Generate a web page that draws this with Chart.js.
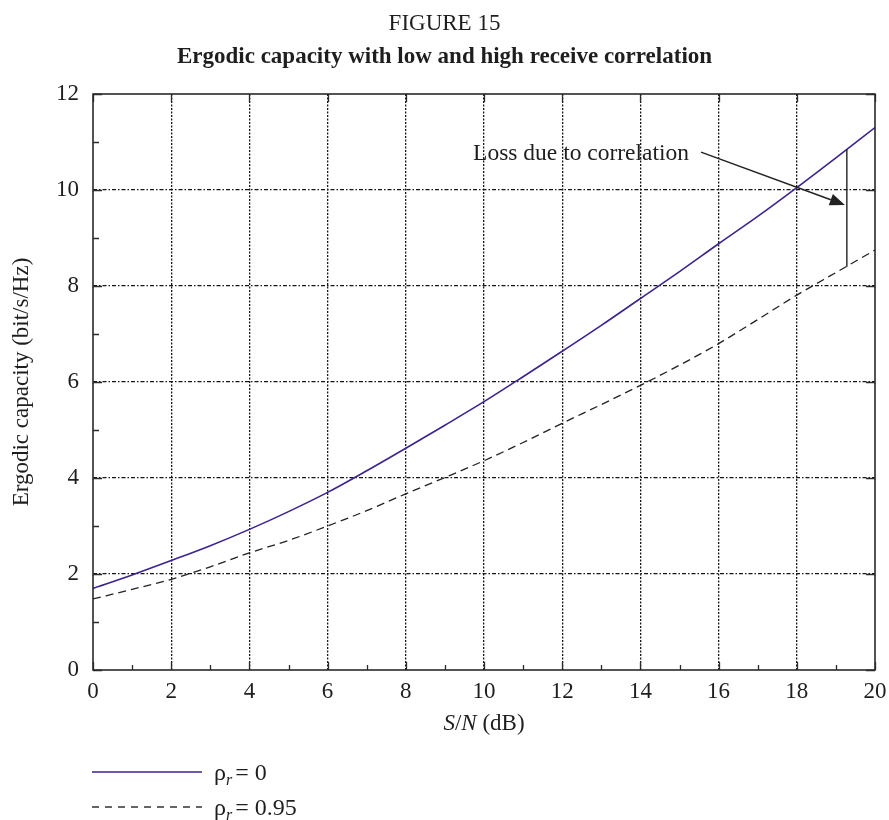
<!DOCTYPE html>
<html>
<head>
<meta charset="utf-8">
<title>Ergodic capacity with low and high receive correlation</title>
<script src="https://cdn.jsdelivr.net/npm/chart.js@4.4.1/dist/chart.umd.min.js"></script>
<style>
  html, body { margin: 0; padding: 0; background: #ffffff; }
  canvas { display: block; }
</style>
</head>
<body>
<canvas id="chart" width="889" height="820"></canvas>
<script>
// Signal-to-noise ratio (dB)
const snrDb = [0, 1, 2, 3, 4, 5, 6, 7, 8, 9, 10, 11, 12, 13, 14, 15, 16, 17, 18, 19, 20];

// Ergodic capacity (bit/s/Hz), uncorrelated receive antennas (rho_r = 0)
const capacityRho0 = [1.70, 1.98, 2.28, 2.59, 2.93, 3.30, 3.70, 4.15, 4.62, 5.10, 5.59,
                      6.11, 6.64, 7.18, 7.74, 8.30, 8.88, 9.45, 10.05, 10.67, 11.30];

// Ergodic capacity (bit/s/Hz), highly correlated receive antennas (rho_r = 0.95)
const capacityRho095 = [1.48, 1.68, 1.89, 2.15, 2.44, 2.70, 3.00, 3.32, 3.67, 4.01, 4.36,
                        4.74, 5.14, 5.53, 5.93, 6.35, 6.80, 7.30, 7.81, 8.28, 8.75];

// Axis tick values
const xTicks = [0, 2, 4, 6, 8, 10, 12, 14, 16, 18, 20];
const yTicks = [0, 2, 4, 6, 8, 10, 12];

// Text
const figureLabel = 'FIGURE 15';
const chartTitle = 'Ergodic capacity with low and high receive correlation';
const yAxisTitle = 'Ergodic capacity (bit/s/Hz)';
const seriesValues = ['0', '0.95'];

// "Loss due to correlation" annotation, in data units
const lossText = 'Loss due to correlation';
const lossTextAt = [9.72, 10.63];
const lossArrowFrom = [15.55, 10.79];
const lossArrowTo = [19.23, 9.69];
const lossBar = [19.28, 8.40, 10.85];   // x, lower end, upper end

const serif = '"Liberation Serif", "Times New Roman", Times, serif';
const ink = '#1e1e1e';
const purple = '#3d2390';

const points = (ys) => snrDb.map((x, i) => ({ x: x, y: ys[i] }));
const hideEdges = (c) => (c.tick && (c.tick.value === c.scale.min || c.tick.value === c.scale.max)) ? 'rgba(0,0,0,0)' : '#161616';

// Frame, inward ticks and the annotation drawn on top of the curves
const frameAndNotes = {
  id: 'frameAndNotes',
  afterDatasetsDraw(chart) {
    const { ctx, chartArea: a, scales: { x, y } } = chart;
    ctx.save();

    // minor / major inward ticks
    ctx.strokeStyle = '#2a2a2a';
    ctx.lineWidth = 1.3;
    ctx.beginPath();
    for (let v = x.min; v <= x.max; v++) {
      const px = Math.round(x.getPixelForValue(v)) + 0.5;
      const major = xTicks.includes(v);
      const len = major ? 8 : 5;
      ctx.moveTo(px, a.bottom); ctx.lineTo(px, a.bottom - len);
      if (major) { ctx.moveTo(px, a.top); ctx.lineTo(px, a.top + len); }
    }
    for (let v = y.min; v <= y.max; v++) {
      const py = Math.round(y.getPixelForValue(v)) + 0.5;
      const major = yTicks.includes(v);
      const len = major ? 9 : 6;
      ctx.moveTo(a.left, py); ctx.lineTo(a.left + len, py);
      if (major) { ctx.moveTo(a.right, py); ctx.lineTo(a.right - len, py); }
    }
    ctx.stroke();

    // plot frame
    ctx.lineWidth = 1.6;
    ctx.strokeRect(a.left, a.top, a.right - a.left, a.bottom - a.top);

    // vertical bar showing the capacity loss
    ctx.strokeStyle = '#222';
    ctx.lineWidth = 1.4;
    ctx.beginPath();
    const bx = x.getPixelForValue(lossBar[0]);
    ctx.moveTo(bx, y.getPixelForValue(lossBar[1]));
    ctx.lineTo(bx, y.getPixelForValue(lossBar[2]));
    ctx.stroke();

    // arrow
    const x0 = x.getPixelForValue(lossArrowFrom[0]), y0 = y.getPixelForValue(lossArrowFrom[1]);
    const x1 = x.getPixelForValue(lossArrowTo[0]), y1 = y.getPixelForValue(lossArrowTo[1]);
    const ang = Math.atan2(y1 - y0, x1 - x0);
    const headLen = 15, headHalf = 6;
    const bxh = x1 - headLen * Math.cos(ang), byh = y1 - headLen * Math.sin(ang);
    ctx.lineWidth = 1.5;
    ctx.beginPath();
    ctx.moveTo(x0, y0); ctx.lineTo(bxh, byh);
    ctx.stroke();
    ctx.fillStyle = '#222';
    ctx.beginPath();
    ctx.moveTo(x1, y1);
    ctx.lineTo(bxh + headHalf * Math.sin(ang), byh - headHalf * Math.cos(ang));
    ctx.lineTo(bxh - headHalf * Math.sin(ang), byh + headHalf * Math.cos(ang));
    ctx.closePath();
    ctx.fill();

    // annotation text
    ctx.fillStyle = ink;
    ctx.font = '23.5px ' + serif;
    ctx.textAlign = 'left';
    ctx.textBaseline = 'alphabetic';
    ctx.fillText(lossText, x.getPixelForValue(lossTextAt[0]), y.getPixelForValue(lossTextAt[1]));
    ctx.restore();
  },

  afterDraw(chart) {
    const { ctx, chartArea: a, width } = chart;
    ctx.save();
    ctx.fillStyle = ink;
    ctx.textBaseline = 'alphabetic';

    // figure number and title
    ctx.textAlign = 'center';
    ctx.font = '23px ' + serif;
    ctx.fillText(figureLabel, width / 2, 30);
    ctx.font = 'bold 23px ' + serif;
    ctx.fillText(chartTitle, width / 2, 63);

    // y axis title
    ctx.save();
    ctx.translate(28, (a.top + a.bottom) / 2);
    ctx.rotate(-Math.PI / 2);
    ctx.font = '23px ' + serif;
    ctx.textAlign = 'center';
    ctx.fillText(yAxisTitle, 0, 0);
    ctx.restore();

    // x axis title: S/N (dB) with italic S and N
    const parts = [['S', 'italic 23px '], ['/', '23px '], ['N', 'italic 23px '], [' (dB)', '23px ']];
    let total = 0;
    parts.forEach(p => { ctx.font = p[1] + serif; total += ctx.measureText(p[0]).width; });
    let cx = (a.left + a.right) / 2 - total / 2;
    ctx.textAlign = 'left';
    parts.forEach(p => { ctx.font = p[1] + serif; ctx.fillText(p[0], cx, 730); cx += ctx.measureText(p[0]).width; });

    // legend
    const rows = [
      { y: 772, dash: [], color: purple, width: 1.6 },
      { y: 807, dash: [7, 6], color: '#333', width: 1.3 }
    ];
    rows.forEach((r, i) => {
      ctx.save();
      ctx.strokeStyle = r.color;
      ctx.lineWidth = r.width;
      ctx.setLineDash(r.dash);
      ctx.beginPath();
      ctx.moveTo(92, r.y); ctx.lineTo(202, r.y);
      ctx.stroke();
      ctx.restore();
      let lx = 214;
      const base = r.y + 8;
      ctx.font = '24px ' + serif;
      ctx.fillText('\u03C1', lx, base);
      lx += ctx.measureText('\u03C1').width;
      ctx.font = 'italic 16px ' + serif;
      ctx.fillText('r', lx, base + 5);
      lx += ctx.measureText('r').width + 3;
      ctx.font = '24px ' + serif;
      ctx.fillText('= ' + seriesValues[i], lx, base);
    });
    ctx.restore();
  }
};

new Chart(document.getElementById('chart'), {
  type: 'line',
  data: {
    datasets: [
      {
        label: '\u03C1r = ' + seriesValues[0],
        data: points(capacityRho0),
        borderColor: purple,
        borderWidth: 1.6,
        pointRadius: 0,
        cubicInterpolationMode: 'monotone',
        fill: false
      },
      {
        label: '\u03C1r = ' + seriesValues[1],
        data: points(capacityRho095),
        borderColor: '#222',
        borderWidth: 1.3,
        borderDash: [8, 5],
        pointRadius: 0,
        cubicInterpolationMode: 'monotone',
        fill: false
      }
    ]
  },
  options: {
    responsive: false,
    animation: false,
    devicePixelRatio: 1,
    layout: { padding: { left: 0, right: 14, top: 94, bottom: 0 } },
    plugins: { legend: { display: false }, title: { display: false }, tooltip: { enabled: false } },
    scales: {
      x: {
        type: 'linear',
        min: 0, max: 20,
        afterBuildTicks: (s) => { s.ticks = xTicks.map(v => ({ value: v })); },
        afterFit: (s) => { s.height = 150; s.paddingLeft = 0; s.paddingRight = 0; },
        grid: { color: hideEdges, lineWidth: 1.3, drawTicks: false },
        border: { display: false, dash: [2, 1.5] },
        ticks: { font: { family: serif, size: 23 }, color: ink, padding: 8, maxRotation: 0 }
      },
      y: {
        type: 'linear',
        min: 0, max: 12,
        afterBuildTicks: (s) => { s.ticks = yTicks.map(v => ({ value: v })); },
        afterFit: (s) => { s.width = 93; s.paddingTop = 0; s.paddingBottom = 0; },
        grid: { color: hideEdges, lineWidth: 1.2, drawTicks: false },
        border: { display: false, dash: [4, 2, 1.5, 2] },
        ticks: { font: { family: serif, size: 23 }, color: ink, padding: 14 }
      }
    }
  },
  plugins: [frameAndNotes]
});
</script>
</body>
</html>
